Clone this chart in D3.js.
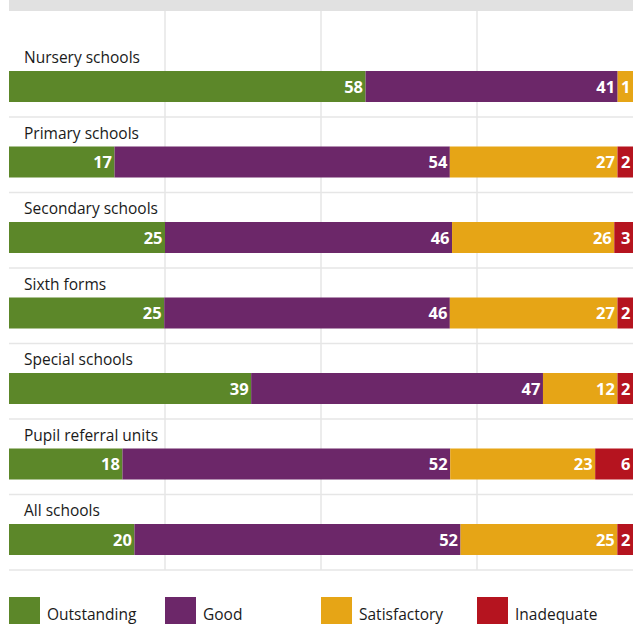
<!DOCTYPE html>
<html><head><meta charset="utf-8">
<script src="https://cdn.jsdelivr.net/npm/d3@7"></script>
<style>body{margin:0;background:#fff;overflow:hidden}svg{display:block}</style>
</head><body>
<script>
const categories = ["Nursery schools","Primary schools","Secondary schools","Sixth forms","Special schools","Pupil referral units","All schools"];
const seriesNames = ["Outstanding","Good","Satisfactory","Inadequate"];
const outstanding = [58,17,25,25,39,18,20];
const good = [41,54,46,46,47,52,52];
const satisfactory = [1,27,26,27,12,23,25];
const inadequate = [0,2,3,2,2,6,2];
const gridTicks = [25,50,75];
const colors = ["#5c8729","#6c2769","#e6a516","#b5141f"];

const W = 633, H = 624;
const font = "'Open Sans', 'Noto Sans', sans-serif";
const minShown = 2.5; // smallest segment drawn, so its label fits
const svg = d3.select("body").append("svg").attr("width", W).attr("height", H);

const x = d3.scaleLinear().domain([0,100]).range([9,633]);
const y = d3.scaleBand().domain(categories).range([41.5,570]).padding(0);

const rows = categories.map((c,i)=>({cat:c, vals:[outstanding[i],good[i],satisfactory[i],inadequate[i]]}));

// top grey band
svg.append("rect").attr("x",x(0)).attr("y",0).attr("width",W-x(0)).attr("height",11).attr("fill","#e1e1e1");

// vertical gridlines
svg.selectAll("line.vg").data(gridTicks).join("line")
  .attr("x1",d=>x(d)).attr("x2",d=>x(d)).attr("y1",11).attr("y2",570)
  .attr("stroke","#e6e6e6").attr("stroke-width",1.5);

// horizontal row separators
svg.selectAll("line.hg").data(categories).join("line")
  .attr("x1",x(0)).attr("x2",W).attr("y1",d=>y(d)+y.bandwidth()).attr("y2",d=>y(d)+y.bandwidth())
  .attr("stroke","#e6e6e6").attr("stroke-width",1.5);

const g = svg.selectAll("g.row").data(rows).join("g").attr("transform",d=>`translate(0,${y(d.cat)})`);

g.append("text").attr("x",24).attr("y",21.5).text(d=>d.cat)
  .attr("font-family",font).attr("font-size",15.5).attr("fill","#1a1a1a");

g.each(function(d){
  const gg = d3.select(this);
  const shown = d.vals.map(v=> v>0 ? Math.max(v,minShown) : 0);
  const tot = d3.sum(shown);
  let acc = 0;
  const segs = d.vals.map((v,k)=>{const w=shown[k]/tot*100; const s={k,v,x0:acc,x1:acc+w}; acc+=w; return s;}).filter(s=>s.v>0);
  gg.selectAll("rect").data(segs).join("rect")
    .attr("x",s=>x(s.x0)).attr("width",s=>x(s.x1)-x(s.x0))
    .attr("y",29.5).attr("height",31).attr("fill",s=>colors[s.k]);
  gg.selectAll("text.v").data(segs).join("text").attr("class","v")
    .attr("x",s=>Math.min(x(s.x1),W)-2.5).attr("y",51)
    .attr("text-anchor","end").attr("font-family",font).attr("font-weight","bold")
    .attr("font-size",16.5).attr("fill","#fff").text(s=>s.v);
});

// legend
const lg = svg.selectAll("g.leg").data(seriesNames).join("g")
  .attr("transform",(d,i)=>`translate(${x(i*25)},597)`);
lg.append("rect").attr("width",31).attr("height",31).attr("fill",(d,i)=>colors[i]);
lg.append("text").attr("x",38).attr("y",23).text(d=>d)
  .attr("font-family",font).attr("font-size",15.5).attr("fill","#1a1a1a");
</script>
</body></html>
